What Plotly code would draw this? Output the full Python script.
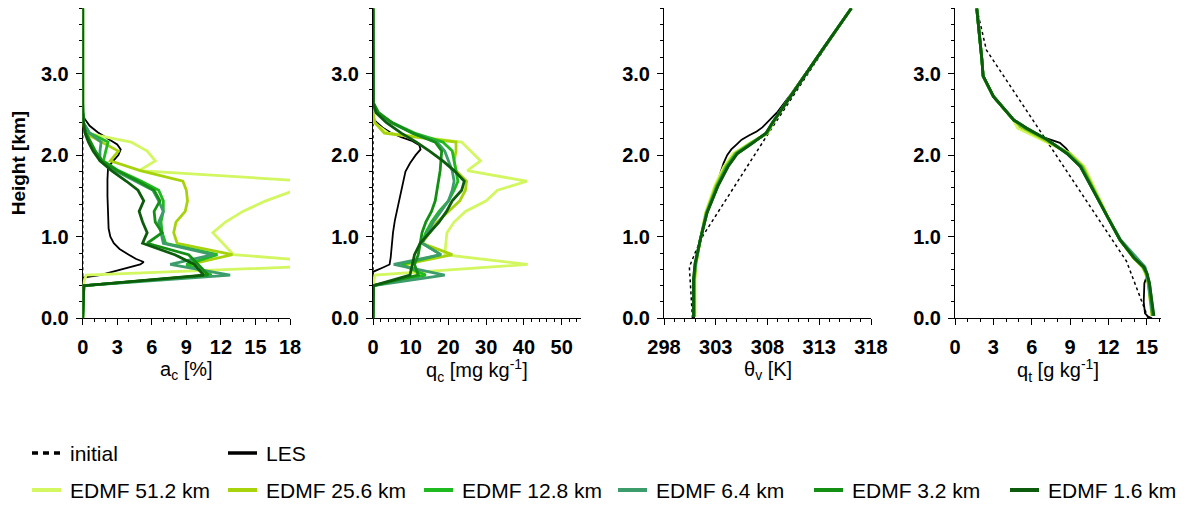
import plotly.graph_objects as go

W, H = 1189, 505

# ---------------- data ----------------
series_names = ["EDMF 51.2 km", "EDMF 25.6 km", "EDMF 12.8 km", "EDMF 6.4 km", "EDMF 3.2 km", "EDMF 1.6 km"]
series_colors = ["#d2f760", "#a6d30c", "#1fba1f", "#3d9c6c", "#138f13", "#0d5c0d"]

# cloud fraction / cloud water (heights in km)
z_cloud = [0.0, 0.40, 0.53, 0.66, 0.78, 0.92, 1.05, 1.18, 1.31, 1.44, 1.57, 1.68, 1.81, 1.93, 2.05, 2.16, 2.27, 2.40, 2.52, 2.64, 3.80]

ac_512 = [0, 0, 0.3, 24.0, 13.1, 12.2, 11.3, 12.4, 13.9, 15.9, 18.4, 19.6, 4.9, 6.3, 5.6, 4.2, 0.3, 0, 0, 0, 0]
ac_256 = [0, 0.1, 10.8, 9.3, 13.0, 8.2, 7.9, 8.1, 8.9, 9.1, 9.0, 8.7, 5.0, 2.4, 3.1, 1.6, 0.2, 0, 0, 0, 0]
ac_128 = [0, 0.1, 11.2, 9.0, 11.7, 7.2, 6.9, 6.8, 7.0, 7.0, 6.6, 5.1, 3.1, 1.8, 2.0, 2.2, 0.6, 0.05, 0, 0, 0]
ac_64 = [0, 0.1, 12.8, 7.6, 11.3, 7.0, 6.8, 6.6, 7.0, 6.6, 6.1, 4.6, 2.8, 1.5, 1.5, 1.6, 0.6, 0.05, 0, 0, 0]
ac_32 = [0, 0.1, 10.9, 10.0, 9.2, 5.6, 6.9, 6.3, 6.2, 6.7, 6.2, 4.8, 3.0, 1.7, 1.1, 0.7, 0.3, 0.05, 0, 0, 0]
ac_16 = [0, 0.1, 10.5, 9.7, 8.0, 5.2, 5.6, 5.2, 4.9, 5.3, 4.8, 3.8, 2.5, 1.5, 0.9, 0.5, 0.2, 0.05, 0, 0, 0]

qc_512 = [0, 0, 0.5, 41.0, 19.0, 19.3, 19.6, 21.5, 24.5, 30.0, 33.0, 40.8, 25.0, 28.5, 26.0, 23.5, 4.0, 0.2, 0, 0, 0]
qc_256 = [0, 0.1, 12.5, 8.5, 21.0, 13.0, 15.0, 17.0, 20.0, 23.0, 24.5, 24.8, 22.0, 21.5, 22.0, 22.0, 3.0, 0.5, 0, 0, 0]
qc_128 = [0, 0.1, 14.0, 7.5, 18.0, 13.0, 14.0, 15.5, 17.5, 20.0, 21.5, 22.5, 22.0, 21.5, 21.0, 18.5, 11.0, 5.0, 1.2, 0.1, 0]
qc_64 = [0, 0.1, 19.0, 5.5, 18.0, 13.0, 14.5, 16.0, 18.0, 20.0, 21.0, 21.5, 21.0, 20.0, 19.0, 17.0, 10.5, 4.8, 1.2, 0.1, 0]
qc_32 = [0, 0.1, 12.0, 11.0, 12.0, 12.5, 13.0, 14.0, 15.5, 16.5, 17.0, 17.5, 17.8, 18.0, 18.2, 16.5, 10.5, 5.0, 1.5, 0.1, 0]
qc_16 = [0, 0.1, 9.8, 10.5, 11.0, 12.5, 15.0, 17.5, 19.5, 21.0, 23.5, 24.2, 21.5, 18.5, 15.0, 11.5, 7.5, 3.5, 0.8, 0, 0]

z_init_cloud = [0.0, 3.80]
ac_init = [0, 0]
qc_init = [0, 0]

z_ac_les = [0.0, 0.50, 0.53, 0.60, 0.66, 0.69, 0.73, 0.78, 0.85, 0.92, 1.00, 1.10, 1.25, 1.50, 1.70, 1.85, 1.92, 2.00, 2.07, 2.13, 2.20, 2.28, 2.36, 2.45, 2.55, 3.80]
ac_les = [0, 0, 1.5, 3.5, 5.0, 5.3, 4.6, 4.0, 3.2, 2.7, 2.4, 2.25, 2.2, 2.15, 2.15, 2.2, 2.6, 3.1, 3.3, 3.0, 2.2, 1.3, 0.6, 0.15, 0, 0]

z_qc_les = [0.0, 0.57, 0.62, 0.66, 0.75, 0.90, 1.05, 1.20, 1.35, 1.50, 1.65, 1.80, 1.90, 2.00, 2.07, 2.12, 2.17, 2.22, 2.28, 2.34, 2.40, 2.45, 3.80]
qc_les = [0, 0, 2.5, 4.4, 4.7, 4.9, 5.3, 5.8, 6.5, 7.2, 7.8, 8.6, 9.8, 11.3, 12.6, 12.3, 10.5, 7.5, 4.5, 2.5, 1.0, 0, 0]

# virtual potential temperature (K)
z_th_edmf = [0.02, 0.30, 0.47, 0.67, 0.96, 1.29, 1.62, 1.86, 2.02, 2.15, 2.27, 2.39, 2.72, 3.29, 3.80]
th_512 = [301.0, 301.0, 301.0, 301.1, 301.5, 302.0, 302.9, 303.8, 304.7, 306.3, 308.0, 308.5, 310.2, 313.3, 316.1]
th_256 = [300.95, 300.95, 300.95, 301.1, 301.5, 302.05, 303.0, 303.95, 304.85, 306.4, 308.0, 308.5, 310.2, 313.3, 316.1]
th_128 = [300.9, 300.9, 300.9, 301.05, 301.5, 302.1, 303.1, 304.05, 304.95, 306.45, 307.95, 308.45, 310.2, 313.3, 316.1]
th_64 = [300.9, 300.9, 300.9, 301.05, 301.5, 302.1, 303.15, 304.1, 305.0, 306.5, 307.9, 308.45, 310.2, 313.3, 316.1]
th_32 = [300.85, 300.85, 300.85, 301.0, 301.5, 302.15, 303.2, 304.15, 305.05, 306.55, 307.9, 308.45, 310.2, 313.3, 316.1]
th_16 = [300.85, 300.85, 300.85, 301.0, 301.5, 302.15, 303.2, 304.2, 305.1, 306.6, 307.85, 308.45, 310.2, 313.3, 316.1]

z_th_les = [0.0, 0.50, 0.67, 0.96, 1.29, 1.62, 1.75, 1.90, 2.00, 2.07, 2.13, 2.19, 2.24, 2.29, 2.34, 2.39, 2.52, 2.72, 3.29, 3.80]
th_les = [300.9, 300.9, 301.0, 301.5, 302.1, 303.05, 303.4, 303.75, 304.1, 304.5, 305.0, 305.5, 306.2, 306.95, 307.5, 307.9, 308.9, 310.1, 313.3, 316.1]

z_th_init = [0.0, 0.40, 0.63, 0.80, 0.98, 2.25, 3.80]
th_init = [300.75, 300.6, 300.45, 301.0, 301.6, 308.0, 316.1]

# total water (g/kg)
z_qt_edmf = [0.03, 0.22, 0.43, 0.55, 0.63, 0.74, 0.96, 1.25, 1.57, 1.86, 2.02, 2.19, 2.33, 2.43, 2.72, 2.97, 3.17, 3.80]
qt_512 = [15.4, 15.25, 15.1, 14.9, 14.65, 13.95, 12.9, 11.95, 10.95, 10.1, 9.0, 6.7, 4.9, 4.55, 3.0, 2.2, 2.1, 1.7]
qt_256 = [15.4, 15.25, 15.1, 14.9, 14.65, 13.95, 12.9, 11.9, 10.9, 10.0, 8.95, 7.0, 5.3, 4.6, 3.0, 2.2, 2.1, 1.7]
qt_128 = [15.45, 15.3, 15.15, 14.95, 14.7, 14.0, 12.9, 11.9, 10.85, 9.9, 8.85, 7.15, 5.5, 4.6, 3.0, 2.2, 2.1, 1.7]
qt_64 = [15.45, 15.3, 15.15, 15.0, 14.85, 14.2, 12.95, 11.9, 10.8, 9.85, 8.8, 7.2, 5.6, 4.6, 3.0, 2.2, 2.1, 1.7]
qt_32 = [15.5, 15.35, 15.2, 15.0, 14.75, 14.0, 12.9, 11.9, 10.8, 9.8, 8.75, 7.2, 5.6, 4.6, 3.0, 2.2, 2.1, 1.7]
qt_16 = [15.55, 15.4, 15.2, 15.0, 14.75, 14.0, 12.9, 11.9, 10.8, 9.8, 8.75, 7.2, 5.6, 4.6, 3.0, 2.2, 2.1, 1.7]

z_qt_les = [0.0, 0.02, 0.06, 0.20, 0.43, 0.52, 0.63, 0.74, 0.96, 1.25, 1.57, 1.86, 1.98, 2.08, 2.15, 2.23, 2.33, 2.43, 2.72, 2.97, 3.17, 3.80]
qt_les = [15.4, 15.1, 14.85, 14.75, 14.8, 15.0, 14.75, 14.0, 12.9, 11.9, 10.8, 9.8, 9.15, 8.7, 8.2, 6.7, 5.2, 4.55, 3.0, 2.2, 2.1, 1.7]

z_qt_init = [0.0, 0.70, 3.29, 3.80]
qt_init = [15.1, 13.4, 2.45, 1.7]

# axes
x_titles = ["a<sub>c</sub> [%]", "q<sub>c</sub> [mg kg<sup>-1</sup>]", "θ<sub>v</sub> [K]", "q<sub>t</sub> [g kg<sup>-1</sup>]"]
x_ranges = [[0, 18], [0, 55], [298, 318], [0, 16.1]]
x_tick0 = [0, 0, 298, 0]
x_dtick = [3, 10, 5, 3]
x_minor_dtick = [1, 2, 1, 1]
y_range = [0, 3.8]

# ---------------- layout geometry (pixels) ----------------
px_left = [82.7, 373.0, 664.0, 955.0]
px_right = [290.0, 580.5, 871.0, 1161.0]
px_top, px_bottom = 8.3, 318.3

FONT = "Liberation Sans"

fig = go.Figure()

edmf_ac = [ac_512, ac_256, ac_128, ac_64, ac_32, ac_16]
edmf_qc = [qc_512, qc_256, qc_128, qc_64, qc_32, qc_16]
edmf_th = [th_512, th_256, th_128, th_64, th_32, th_16]
edmf_qt = [qt_512, qt_256, qt_128, qt_64, qt_32, qt_16]

panels = [
    (z_init_cloud, ac_init, z_ac_les, ac_les, z_cloud, edmf_ac),
    (z_init_cloud, qc_init, z_qc_les, qc_les, z_cloud, edmf_qc),
    (z_th_init, th_init, z_th_les, th_les, z_th_edmf, edmf_th),
    (z_qt_init, qt_init, z_qt_les, qt_les, z_qt_edmf, edmf_qt),
]

for i, (zi, vi, zl, vl, ze, ve) in enumerate(panels):
    xa = "x" if i == 0 else f"x{i+1}"
    ya = "y" if i == 0 else f"y{i+1}"
    fig.add_trace(go.Scatter(x=vi, y=zi, mode="lines", xaxis=xa, yaxis=ya,
                             line=dict(color="black", width=1.5, dash="dot"),
                             name="initial", showlegend=False, hoverinfo="skip"))
    fig.add_trace(go.Scatter(x=vl, y=zl, mode="lines", xaxis=xa, yaxis=ya,
                             line=dict(color="black", width=1.8),
                             name="LES", showlegend=False, hoverinfo="skip"))
    for name, col, vals in zip(series_names, series_colors, ve):
        fig.add_trace(go.Scatter(x=vals, y=ze, mode="lines", xaxis=xa, yaxis=ya,
                                 line=dict(color=col, width=2.8),
                                 name=name, showlegend=False, hoverinfo="skip"))

layout = dict(
    width=W, height=H,
    margin=dict(l=0, r=0, t=0, b=0, pad=0, autoexpand=False),
    paper_bgcolor="white", plot_bgcolor="white",
    showlegend=False,
    font=dict(family=FONT, color="black"),
)

ydom = [1 - px_bottom / H, 1 - px_top / H]
for i in range(4):
    xkey = "xaxis" if i == 0 else f"xaxis{i+1}"
    ykey = "yaxis" if i == 0 else f"yaxis{i+1}"
    yname = "y" if i == 0 else f"y{i+1}"
    xname = "x" if i == 0 else f"x{i+1}"
    layout[xkey] = dict(
        domain=[px_left[i] / W, px_right[i] / W], range=x_ranges[i], anchor=yname,
        showline=True, linecolor="black", linewidth=1, mirror=False,
        showgrid=False, zeroline=False, automargin=False,
        ticks="outside", ticklen=6, tickwidth=1, tickcolor="black",
        tickmode="linear", tick0=x_tick0[i], dtick=x_dtick[i],
        minor=dict(ticks="outside", ticklen=3, tickwidth=1, tickcolor="black",
                   tickmode="linear", tick0=x_tick0[i], dtick=x_minor_dtick[i], showgrid=False),
        tickfont=dict(family=FONT, size=20, color="black", weight="bold"),
        ticklabelstandoff=5,
        layer="below traces",
    )
    layout[ykey] = dict(
        domain=ydom, range=y_range, anchor=xname,
        showline=True, linecolor="black", linewidth=1, mirror=False,
        showgrid=False, zeroline=False, automargin=False,
        ticks="outside", ticklen=6, tickwidth=1, tickcolor="black",
        tickmode="linear", tick0=0, dtick=1, tickformat=".1f",
        minor=dict(ticks="outside", ticklen=3, tickwidth=1, tickcolor="black",
                   tickmode="linear", tick0=0, dtick=0.2, showgrid=False),
        tickfont=dict(family=FONT, size=20, color="black", weight="bold"),
        ticklabelstandoff=3,
        layer="below traces",
    )

annotations = []
for i in range(4):
    cx = (px_left[i] + px_right[i]) / 2 / W
    annotations.append(dict(text=x_titles[i], x=cx, y=1 - 370 / H, xref="paper", yref="paper",
                            xanchor="center", yanchor="middle", showarrow=False,
                            font=dict(family=FONT, size=20, color="black")))
annotations.append(dict(text="Height [km]", x=18 / W, y=1 - (px_top + px_bottom) / 2 / H,
                        xref="paper", yref="paper", textangle=-90, xanchor="center", yanchor="middle",
                        showarrow=False, font=dict(family=FONT, size=19, color="black", weight="bold")))

# legend (drawn manually)
shapes = []
row1_y = 1 - 453 / H
row2_y = 1 - 490 / H
line_len = 29
text_off = 36
legend_row1 = [("initial", "black", "6px,5px", 32), ("LES", "black", "solid", 228)]
for label, col, dash, x0 in legend_row1:
    shapes.append(dict(type="line", xref="paper", yref="paper", x0=x0 / W, x1=(x0 + line_len) / W,
                       y0=row1_y, y1=row1_y, line=dict(color=col, width=3.5, dash=dash)))
    annotations.append(dict(text=label, x=(x0 + text_off) / W, y=row1_y, xref="paper", yref="paper",
                            xanchor="left", yanchor="middle", showarrow=False,
                            font=dict(family=FONT, size=21, color="black")))
legend_x2 = [32, 228, 424, 618, 814, 1010]
for label, col, x0 in zip(series_names, series_colors, legend_x2):
    shapes.append(dict(type="line", xref="paper", yref="paper", x0=x0 / W, x1=(x0 + line_len) / W,
                       y0=row2_y, y1=row2_y, line=dict(color=col, width=4)))
    annotations.append(dict(text=label, x=(x0 + text_off) / W, y=row2_y, xref="paper", yref="paper",
                            xanchor="left", yanchor="middle", showarrow=False,
                            font=dict(family=FONT, size=21, color="black")))

layout["annotations"] = annotations
layout["shapes"] = shapes
fig.update_layout(**layout)

fig.write_html("out.html")
